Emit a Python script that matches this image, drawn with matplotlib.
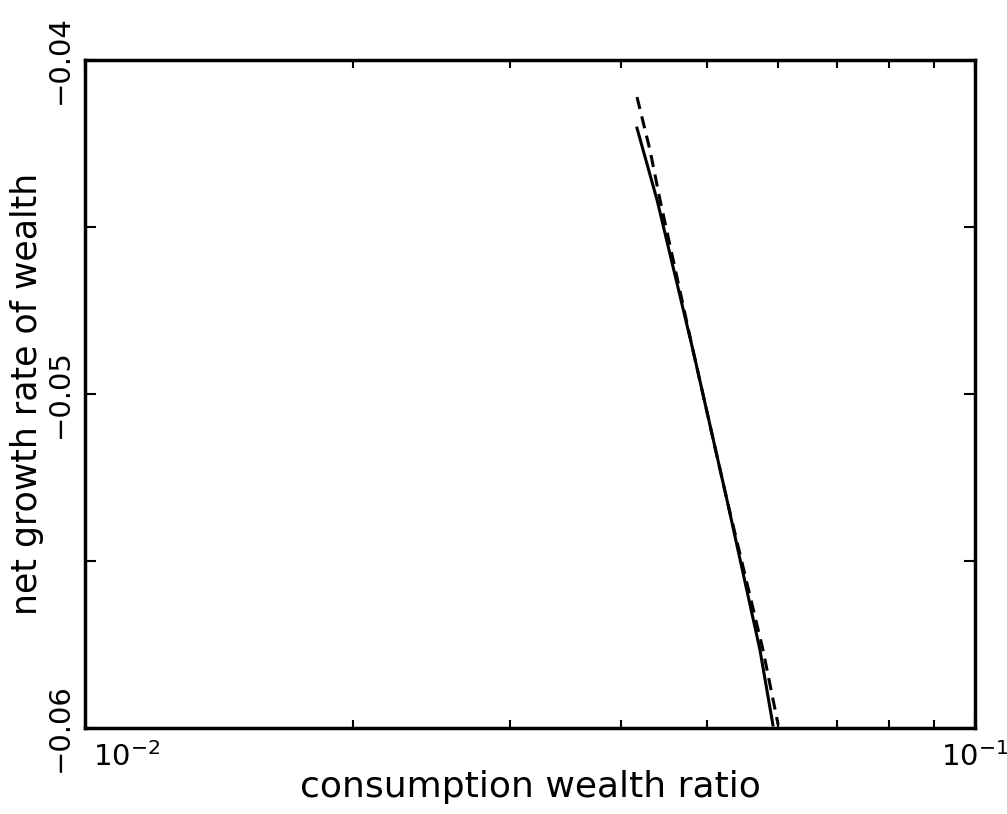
import matplotlib
matplotlib.use("Agg")
import matplotlib.pyplot as plt
import matplotlib.transforms as mtransforms
from matplotlib.ticker import FixedLocator, LogLocator, NullFormatter, FuncFormatter

# solid curve
solid_x = [0.04171, 0.04393, 0.04820, 0.05264, 0.05733, 0.05929]
solid_y = [-0.04204, -0.04419, -0.04868, -0.05317, -0.05766, -0.05991]

# dashed curve
dashed_x = [0.04171, 0.04313, 0.04427, 0.04820, 0.05264, 0.05778, 0.06010]
dashed_y = [-0.04111, -0.04269, -0.04419, -0.04868, -0.05317, -0.05766, -0.05991]

y_ticks = [-0.06, -0.055, -0.05, -0.045, -0.04]
y_labels = {-0.06: "\u22120.06", -0.05: "\u22120.05", -0.04: "\u22120.04"}

plt.rcParams["font.family"] = ["DejaVu Sans"]

fig = plt.figure(figsize=(10.07, 8.14), dpi=100)
ax = fig.add_axes([0.0844, 0.1057, 0.8838, 0.8206])

ax.plot(solid_x, solid_y, color="black", linewidth=2.2)
ax.plot(dashed_x, dashed_y, color="black", linewidth=2.2, linestyle=(0, (4, 2.5)))

ax.set_xscale("log")
ax.set_xlim(1e-2, 1e-1)
ax.set_ylim(-0.06, -0.04)

ax.yaxis.set_major_locator(FixedLocator(y_ticks))
ax.yaxis.set_major_formatter(FuncFormatter(lambda v, p: y_labels.get(round(v, 3), "")))
ax.xaxis.set_minor_locator(LogLocator(base=10, subs=range(2, 10)))
ax.xaxis.set_minor_formatter(NullFormatter())

ax.tick_params(axis="both", which="both", direction="in", top=True, right=True,
               width=1.5, labelsize=21)
ax.tick_params(axis="both", which="major", length=8)
ax.tick_params(axis="x", which="minor", length=6)
ax.tick_params(axis="y", which="major", pad=8)
ax.tick_params(axis="x", which="major", pad=10)

for lab in ax.get_yticklabels():
    lab.set_rotation(90)
    lab.set_va("center")

fig.canvas.draw()
for lab in ax.get_xticklabels():
    if "2" in lab.get_text():
        lab.set_ha("left")
        lab.set_transform(lab.get_transform() + mtransforms.ScaledTranslation(0.08, 0, fig.dpi_scale_trans))

for s in ax.spines.values():
    s.set_linewidth(2.5)

ax.set_xlabel("consumption wealth ratio", fontsize=26, labelpad=-1)
ax.set_ylabel("net growth rate of wealth", fontsize=25, labelpad=1)

fig.savefig("out.png", dpi=100)
